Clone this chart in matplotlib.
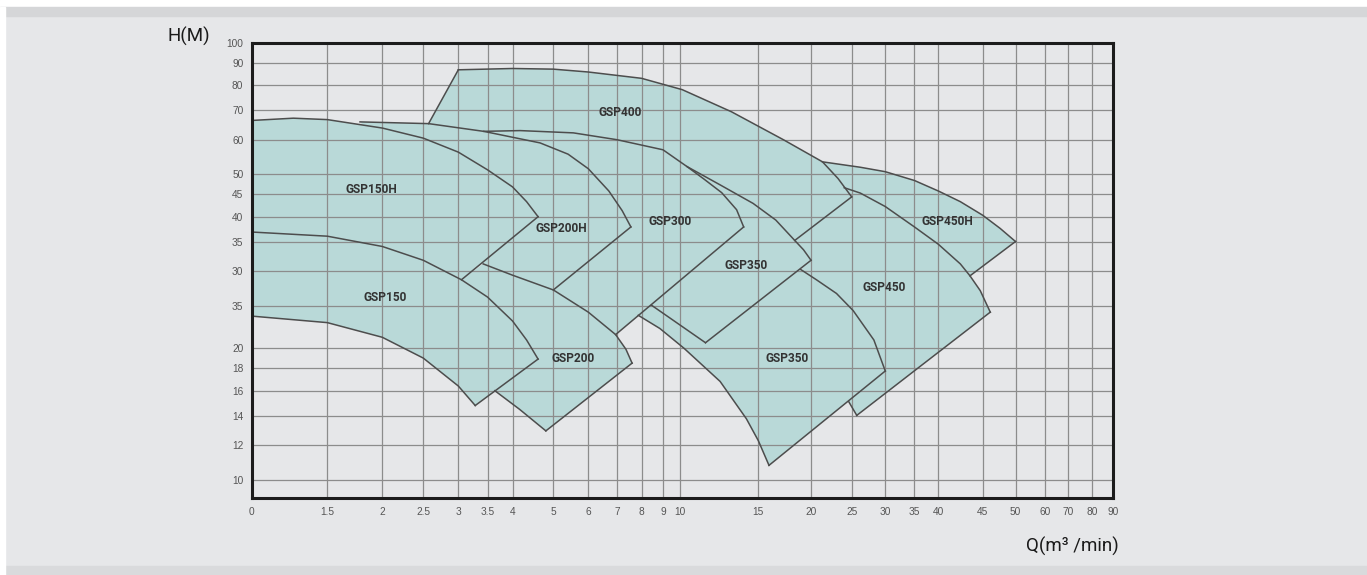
import numpy as np
import matplotlib
matplotlib.use('Agg')
import matplotlib.pyplot as plt
from matplotlib.patches import Rectangle
from matplotlib.ticker import NullLocator

# ---- axes ----
Q_TICKS = [1, 1.5, 2, 2.5, 3, 3.5, 4, 5, 6, 7, 8, 9, 10, 15, 20, 25, 30, 35, 40,
           45, 50, 60, 70, 80, 90]
Q_LABELS = ['0', '1.5', '2', '2.5', '3', '3.5', '4', '5', '6', '7', '8', '9', '10',
            '15', '20', '25', '30', '35', '40', '45', '50', '60', '70', '80', '90']
H_TICKS = [10, 12, 14, 16, 18, 20, 25, 30, 35, 40, 45, 50, 60, 70, 80, 90, 100]
H_LABELS = ['10', '12', '14', '16', '18', '20', '35', '30', '35', '40', '45', '50',
            '60', '70', '80', '90', '100']

# the printed Q grid is only roughly logarithmic: where each gridline sits (0..1)
X_GRID_POS = [0.0, 0.0878, 0.1516, 0.1992, 0.2399, 0.2738, 0.3028, 0.3502, 0.3908,
              0.4241, 0.4526, 0.4775, 0.4976, 0.5882, 0.6494, 0.6966, 0.7356,
              0.7695, 0.7972, 0.8488, 0.8868, 0.9211, 0.9478, 0.9756, 1.0]

# ---- pump ranges: upper curve, lower curve (Q in m3/min, H in m) ----
GSP150H_TOP_Q = [1, 1.25, 1.5, 2, 2.5, 3, 3.5, 4, 4.32, 4.6]
GSP150H_TOP_H = [66.4, 67.2, 66.7, 63.8, 60.5, 56.2, 51.2, 46.8, 43.3, 40]
GSP150H_BOT_Q = [1, 1.5, 2, 2.5, 3.05]
GSP150H_BOT_H = [36.9, 36.1, 34.2, 31.8, 28.7]

GSP150_TOP_Q = [1, 1.5, 2, 2.5, 3.05, 3.5, 4, 4.32, 4.6]
GSP150_TOP_H = [36.9, 36.1, 34.2, 31.8, 28.7, 26.2, 23.1, 20.9, 18.9]
GSP150_BOT_Q = [1, 1.5, 2, 2.5, 3, 3.28]
GSP150_BOT_H = [23.7, 22.9, 21.2, 19.0, 16.4, 14.8]

GSP200H_TOP_Q = [1.78, 2.57, 3.43, 4.65, 5.4, 6.0, 6.7, 7.2, 7.55]
GSP200H_TOP_H = [65.9, 65.3, 62.7, 59.0, 55.6, 51.5, 45.8, 41.3, 37.9]
GSP200H_BOT_Q = [3.42, 4, 5]
GSP200H_BOT_H = [31.2, 29.4, 27.2]

GSP200_TOP_Q = [3.42, 4, 5, 6, 6.95, 7.35, 7.6]
GSP200_TOP_H = [31.2, 29.4, 27.2, 24.2, 21.5, 19.9, 18.5]
GSP200_BOT_Q = [3.05, 3.64, 4.16, 4.8]
GSP200_BOT_H = [28.7, 16.0, 14.5, 12.95]

GSP300_TOP_Q = [3.43, 4.17, 5.55, 7, 9, 10.35, 11.3, 12.4, 13.4, 13.9]
GSP300_TOP_H = [62.7, 62.95, 62.2, 60, 56.9, 52.1, 48.8, 45.4, 41.5, 37.9]
GSP300_BOT_Q = [5, 6, 6.95]
GSP300_BOT_H = [27.2, 24.2, 21.5]

GSP400_TOP_Q = [3, 4, 5, 6, 8, 10.1, 13.05, 17.2, 21.3, 23.2, 25]
GSP400_TOP_H = [86.7, 87.3, 87, 85.7, 82.9, 78.1, 69.5, 60, 53.4, 48.9, 44.4]
GSP400_BOT_Q = [2.57, 3.43, 5.55, 7, 9, 10.35, 12.3, 14.6, 16.5, 18.3]
GSP400_BOT_H = [65.3, 62.7, 62.2, 60, 56.9, 52.1, 47.3, 42.9, 39.3, 35.3]

GSP350A_TOP_Q = [10.35, 12.3, 14.6, 16.5, 18.3, 19.2, 20]
GSP350A_TOP_H = [52.1, 47.3, 42.9, 39.3, 35.3, 33.6, 31.8]
GSP350A_BOT_Q = [8.45, 11.4]
GSP350A_BOT_H = [25.1, 20.6]

GSP350B_TOP_Q = [8.45, 18.9, 20.6, 23, 25.2, 28.2, 30]
GSP350B_TOP_H = [25.1, 30.3, 28.7, 26.7, 24.4, 20.9, 17.75]
GSP350B_BOT_Q = [7.86, 8.85, 10.2, 12.3, 14.1, 15.0, 15.9]
GSP350B_BOT_H = [23.8, 22.2, 20.0, 16.8, 13.8, 12.3, 10.8]

GSP450_TOP_Q = [24.0, 26.2, 30, 35, 40, 42.4, 43.5, 44.7, 46.1]
GSP450_TOP_H = [46.6, 45.3, 42.2, 37.9, 34.6, 31.2, 29.3, 27.1, 24.2]
GSP450_BOT_Q = [18.3, 19.5, 24.6, 25.7]
GSP450_BOT_H = [35.3, 28, 15.1, 14.05]

GSP450H_TOP_Q = [21.3, 26.2, 30, 35, 40, 42.4, 45, 47.6, 50]
GSP450H_TOP_H = [53.4, 51.9, 50.7, 48.4, 45.8, 43.3, 40.3, 37.6, 35.1]
GSP450H_BOT_Q = [24.0, 26.2, 30, 35, 40, 42.4, 43.5]
GSP450H_BOT_H = [46.6, 45.3, 42.2, 37.9, 34.6, 31.2, 29.3]

LABEL_TEXT = ['GSP150H', 'GSP150', 'GSP200H', 'GSP200', 'GSP300', 'GSP400',
              'GSP350', 'GSP350', 'GSP450', 'GSP450H']
LABEL_Q = [1.887, 2.03, 5.2, 5.54, 9.39, 7.13, 14.1, 17.6, 29.9, 41.0]
LABEL_H = [46.1, 26.1, 37.5, 19.0, 39.0, 69.2, 30.9, 19.0, 27.5, 39.0]

BG = '#e6e7e9'
FILL = '#b9d9d8'
EDGE = '#4d4d4d'

LOG_Q = np.log10(Q_TICKS)


def q_to_axis(q):
    q = np.maximum(np.asarray(q, dtype=float), 1e-9)
    return np.interp(np.log10(q), LOG_Q, X_GRID_POS)


def axis_to_q(p):
    return 10 ** np.interp(np.asarray(p, dtype=float), X_GRID_POS, LOG_Q)


# (top q, top h, bottom q, bottom h, first drawn top pt, first drawn bottom pt, left edge)
# leading points that sit under another range are filled but not outlined
regions = [
    (GSP150H_TOP_Q, GSP150H_TOP_H, GSP150H_BOT_Q, GSP150H_BOT_H, 0, 99, False),
    (GSP150_TOP_Q, GSP150_TOP_H, GSP150_BOT_Q, GSP150_BOT_H, 0, 0, False),
    (GSP200H_TOP_Q, GSP200H_TOP_H, GSP200H_BOT_Q, GSP200H_BOT_H, 0, 99, False),
    (GSP200_TOP_Q, GSP200_TOP_H, GSP200_BOT_Q, GSP200_BOT_H, 0, 1, False),
    (GSP300_TOP_Q, GSP300_TOP_H, GSP300_BOT_Q, GSP300_BOT_H, 0, 99, False),
    (GSP400_TOP_Q, GSP400_TOP_H, GSP400_BOT_Q, GSP400_BOT_H, 0, 99, True),
    (GSP350A_TOP_Q, GSP350A_TOP_H, GSP350A_BOT_Q, GSP350A_BOT_H, 0, 0, False),
    (GSP350B_TOP_Q, GSP350B_TOP_H, GSP350B_BOT_Q, GSP350B_BOT_H, 1, 0, False),
    (GSP450_TOP_Q, GSP450_TOP_H, GSP450_BOT_Q, GSP450_BOT_H, 0, 2, False),
    (GSP450H_TOP_Q, GSP450H_TOP_H, GSP450H_BOT_Q, GSP450H_BOT_H, 0, 99, False),
]

fig = plt.figure(figsize=(13.67, 5.75), dpi=100, facecolor=BG)

# page bands
fig.patches.append(Rectangle((0, 1 - 7 / 575), 1, 7 / 575, transform=fig.transFigure,
                             color='white', zorder=0))
fig.patches.append(Rectangle((0, 1 - 16 / 575), 1, 9 / 575, transform=fig.transFigure,
                             color='#d5d6d8', zorder=0))
fig.patches.append(Rectangle((0, 0), 1, 9 / 575, transform=fig.transFigure,
                             color='#d9dadc', zorder=0))
fig.patches.append(Rectangle((0, 0), 5 / 1367, 1 - 7 / 575, transform=fig.transFigure,
                             color='white', zorder=0))

ax = fig.add_axes([251.7 / 1367, 76.7 / 575, 861.3 / 1367, 455.6 / 575])
ax.set_facecolor(BG)
ax.set_xscale('function', functions=(q_to_axis, axis_to_q))
ax.set_yscale('log')
ax.set_xlim(1, 90)
ax.set_ylim(9.08, 100)

for tq, th, bq, bh, tk, bk, left in regions:
    ax.fill(np.r_[tq, bq[::-1]], np.r_[th, bh[::-1]], color=FILL, lw=0, zorder=1)

for tq, th, bq, bh, tk, bk, left in regions:
    ax.plot(tq[tk:], th[tk:], color=EDGE, lw=1.1, zorder=3)
    ax.plot([tq[-1], bq[-1]], [th[-1], bh[-1]], color=EDGE, lw=1.1, zorder=3)
    if bk < len(bq) - 1:
        ax.plot(bq[bk:], bh[bk:], color=EDGE, lw=1.1, zorder=3)
    if left:
        ax.plot([bq[0], tq[0]], [bh[0], th[0]], color=EDGE, lw=1.1, zorder=3)

for txt, q, h in zip(LABEL_TEXT, LABEL_Q, LABEL_H):
    ax.text(q, h, txt, ha='center', va='center', fontsize=8.6, fontweight='bold',
            family='Roboto', color='#333333', zorder=4)

ax.set_xticks(Q_TICKS, Q_LABELS)
ax.set_yticks(H_TICKS, H_LABELS)
ax.xaxis.set_minor_locator(NullLocator())
ax.yaxis.set_minor_locator(NullLocator())
ax.tick_params(length=0, labelsize=7.3, labelcolor='#555555')
ax.tick_params(axis='x', pad=6)
ax.tick_params(axis='y', pad=6)
for lab in ax.get_xticklabels() + ax.get_yticklabels():
    lab.set_family('Liberation Sans')

ax.set_axisbelow(False)
ax.grid(True, color='#8c8c8c', lw=0.9)
for sp in ax.spines.values():
    sp.set_linewidth(2.2)
    sp.set_color('#1c1c1c')
    sp.set_zorder(5)

fig.text(189 / 1367, 1 - 36 / 575, 'H(M)', ha='center', va='center', fontsize=13.5,
         family='Roboto', color='#1a1a1a')
fig.text(1119 / 1367, 1 - 546 / 575, 'Q(m³ /min)', ha='right', va='center',
         fontsize=13.5, family='Roboto', color='#1a1a1a')

fig.savefig('out.png', dpi=100, facecolor=BG)
